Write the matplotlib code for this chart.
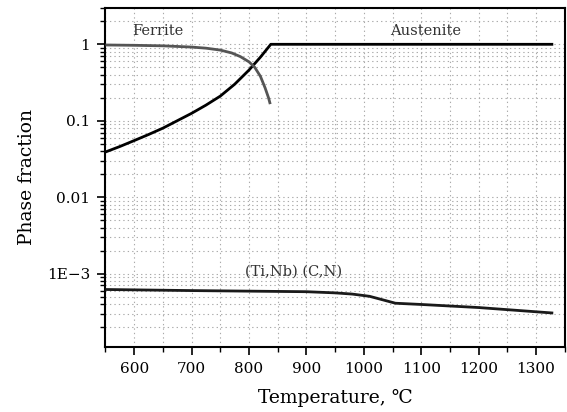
import matplotlib
matplotlib.use("Agg")
import matplotlib.pyplot as plt
from matplotlib.ticker import FixedLocator, NullFormatter, MultipleLocator

plt.rcParams["font.family"] = ["DejaVu Serif", "DejaVu Sans"]

# austenite phase fraction vs temperature
aus_T = [550, 575, 600, 625, 650, 675, 700, 725, 750, 775, 800, 820, 838, 1330]
aus_f = [0.039, 0.046, 0.055, 0.066, 0.08, 0.10, 0.125, 0.16, 0.21, 0.30, 0.46, 0.68, 1.0, 1.0]

# ferrite
fer_T = [550, 600, 650, 700, 725, 750, 770, 785, 800, 810, 820, 828, 834, 837]
fer_f = [0.98, 0.97, 0.955, 0.92, 0.89, 0.84, 0.77, 0.69, 0.59, 0.50, 0.38, 0.27, 0.20, 0.165]

# (Ti,Nb)(C,N) precipitate
tin_T = [550, 625, 700, 800, 900, 950, 980, 1010, 1035, 1055, 1100, 1200, 1330]
tin_f = [6.2e-4, 6.1e-4, 6.0e-4, 5.9e-4, 5.8e-4, 5.6e-4, 5.4e-4, 5.05e-4, 4.5e-4,
         4.1e-4, 3.95e-4, 3.6e-4, 3.05e-4]

ytick_vals = [1e-3, 1e-2, 1e-1, 1]
ytick_labels = ["1E\u22123", "0.01", "0.1", "1"]

fig = plt.figure(figsize=(5.67, 4.12), dpi=100)
ax = fig.add_axes([0.186, 0.158, 0.810, 0.823])

style = dict(lw=2.0, zorder=3, solid_joinstyle="round", solid_capstyle="butt")
ax.plot(aus_T, aus_f, color="black", **style)
ax.plot(fer_T, fer_f, color="#555555", **style)
ax.plot(tin_T, tin_f, color="#1a1a1a", **style)

ax.set_yscale("log")
ax.set_xlim(550, 1350)
ax.set_ylim(1.1e-4, 3.0)

ax.xaxis.set_major_locator(MultipleLocator(100))
ax.xaxis.set_minor_locator(MultipleLocator(50))
ax.yaxis.set_major_locator(FixedLocator(ytick_vals))
ax.set_yticklabels(ytick_labels)
minors = [m * 10.0 ** e for e in range(-4, 1) for m in range(2, 10)]
ax.yaxis.set_minor_locator(FixedLocator(minors))
ax.yaxis.set_minor_formatter(NullFormatter())

ax.grid(True, which="both", color="#aaaaaa", linestyle=(0, (1.2, 2.8)), lw=0.8)
ax.set_axisbelow(True)

ax.tick_params(which="major", direction="out", length=6, width=1.2, labelsize=11, pad=5)
ax.tick_params(which="minor", direction="out", length=3.5, width=1.0)
for s in ax.spines.values():
    s.set_linewidth(1.5)

ax.set_xlabel("Temperature, \u2103", fontsize=13.5, labelpad=9)
ax.set_ylabel("Phase fraction", fontsize=13.5, labelpad=8)

ax.text(642, 1.5, "Ferrite", ha="center", va="center", fontsize=10.5, color="#333333")
ax.text(1107, 1.5, "Austenite", ha="center", va="center", fontsize=10.5, color="#333333")
ax.text(877, 1.07e-3, "(Ti,Nb) (C,N)", ha="center", va="center", fontsize=10.5, color="#333333")

fig.savefig("out.png", dpi=100)
